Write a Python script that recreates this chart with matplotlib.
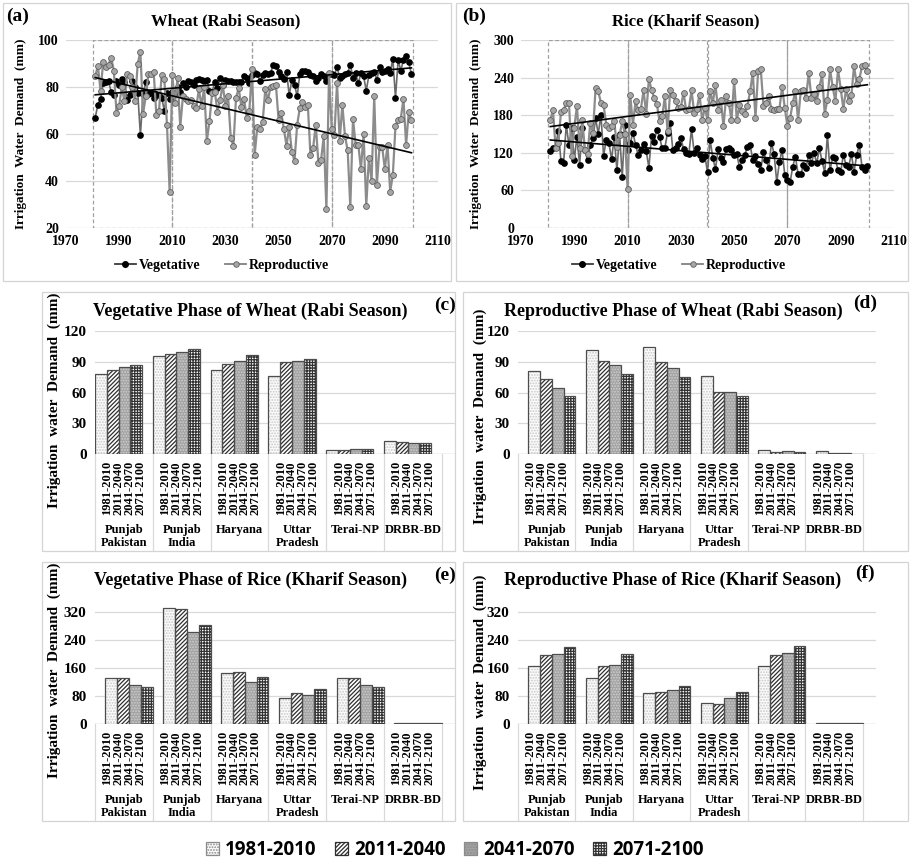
import numpy as np
import matplotlib
matplotlib.use('Agg')
import matplotlib.pyplot as plt
from matplotlib.patches import Rectangle, Patch
from matplotlib.lines import Line2D
import matplotlib.transforms as mtransforms

W, H = 910, 861
plt.rcParams['font.family'] = ['Liberation Serif', 'DejaVu Serif']
plt.rcParams['font.weight'] = 'bold'
plt.rcParams['hatch.linewidth'] = 0.9

# ---------------- data ----------------
years = list(range(1981, 2101))

wheat_veg = [67, 72.5, 75, 81.5, 82, 82.5, 78, 76.5, 82.5, 81,
             83.5, 82, 74.5, 76.5, 82.5, 80, 77.5, 59.5, 77, 82,
             77, 77.5, 75.5, 77, 76.5, 75.5, 70, 77.5, 75, 78,
             77.5, 80, 78, 81.5, 80, 82.5, 82, 81, 83, 83.5,
             83, 82.5, 83, 78.5, 78, 82, 79.5, 84, 81, 83,
             82.5, 82.5, 82, 82, 82, 82, 84.5, 84, 81.5, 85,
             86, 85.5, 82.5, 85, 86, 85.5, 86, 89.5, 89, 86.5,
             84.5, 83.5, 86.5, 76.5, 83, 81, 76, 85.5, 87, 87,
             86.5, 85, 84.5, 82.5, 84, 85.5, 84.5, 82.5, 85.5, 85.5,
             85, 88.5, 84, 84.5, 85.5, 86, 89.5, 84, 86, 81.5,
             86, 84.5, 78.5, 85, 86, 86.5, 83, 88.5, 86.5, 87,
             87.5, 86, 92, 75.5, 91.5, 87, 91.5, 93, 90.5, 85.5]

wheat_rep = [84.5, 89, 78.5, 90.5, 88.5, 89.5, 92.5, 87, 69, 72,
             80, 74, 85.5, 84.5, 80, 74, 90, 95, 68.5, 76,
             85.5, 85.5, 86.5, 68, 70, 85, 83.5, 64, 35.5, 85,
             73, 84, 63, 76, 75, 74, 74.5, 72, 71, 79,
             72, 80, 57, 65.5, 77.5, 78, 69.5, 74.5, 81, 72,
             76, 58.5, 55, 75.5, 79.5, 71.5, 75, 67, 70, 87.5,
             51, 63, 62, 65, 79, 74.5, 80, 80.5, 81, 66,
             69, 62, 55, 63, 52.5, 48.5, 64, 71, 73.5, 71.5,
             72.5, 51, 54, 64, 47.5, 49, 59, 28, 86, 62,
             59.5, 81.5, 57, 72.5, 59, 53, 29, 66.5, 55.5, 55.5,
             45, 60, 29.5, 50, 40, 76, 38.5, 54.5, 54.5, 45,
             55.5, 35.5, 42.5, 63.5, 66, 66.5, 75, 55.5, 69.5, 66]

rice_veg = [123, 128, 130, 155, 107, 104, 165, 132, 160, 109,
            146, 101, 160, 125, 108, 132, 143, 175, 150, 181,
            115, 141, 135, 110, 145, 92, 150, 82, 165, 125,
            135, 152, 133, 116, 125, 134, 123, 96, 147, 138,
            157, 145, 127, 128, 152, 167, 124, 127, 134, 144,
            126, 120, 118, 158, 120, 128, 117, 110, 115, 89,
            140, 112, 94, 126, 112, 105, 126, 128, 124, 117,
            118, 97, 108, 117, 130, 133, 108, 115, 102, 93,
            121, 108, 96, 136, 118, 73, 106, 124, 85, 76,
            73, 98, 114, 86, 86, 100, 96, 117, 103, 120,
            103, 127, 107, 88, 148, 92, 113, 111, 92, 89,
            117, 100, 98, 118, 90, 116, 133, 97, 92, 99]

rice_rep = [173, 188, 127, 135, 185, 188, 200, 200, 115, 160,
            195, 127, 172, 125, 118, 168, 152, 224, 218, 200,
            196, 165, 160, 162, 170, 130, 148, 170, 150, 62,
            212, 165, 202, 188, 190, 220, 182, 238, 220, 208,
            198, 170, 178, 210, 155, 220, 212, 202, 192, 193,
            216, 188, 190, 220, 184, 190, 213, 172, 192, 172,
            218, 200, 228, 188, 205, 162, 210, 200, 172, 235,
            172, 196, 186, 182, 195, 218, 248, 175, 250, 253,
            195, 200, 210, 190, 188, 190, 190, 225, 192, 162,
            175, 200, 218, 172, 218, 220, 208, 248, 208, 214,
            202, 225, 245, 182, 205, 253, 225, 202, 253, 222,
            190, 222, 202, 212, 258, 230, 238, 258, 260, 250]

regions = ['Punjab\nPakistan', 'Punjab\nIndia', 'Haryana', 'Uttar\nPradesh', 'Terai-NP', 'DRBR-BD']
periods = ['1981-2010', '2011-2040', '2041-2070', '2071-2100']

# rows = periods, columns = regions
wheat_veg_bars = [[77.7, 95.6, 82.0, 76.4, 3.9, 12.7],
                  [82.3, 97.6, 87.8, 89.8, 4.2, 11.4],
                  [85.2, 99.5, 90.7, 90.7, 4.6, 10.4],
                  [86.8, 102.8, 96.3, 93.0, 5.2, 10.4]]
wheat_rep_bars = [[81.3, 101.5, 104.0, 76.4, 3.6, 2.6],
                  [73.5, 90.7, 89.4, 60.8, 2.3, 1.3],
                  [64.0, 86.8, 84.2, 60.8, 2.6, 0.7],
                  [56.6, 77.7, 74.8, 56.6, 1.6, 0.3]]
rice_veg_bars = [[130.9, 331.4, 145.2, 73.5, 131.8, 1.9],
                 [130.9, 329.5, 148.0, 89.8, 131.8, 1.9],
                 [111.7, 263.6, 120.3, 84.0, 112.7, 1.9],
                 [105.0, 282.7, 133.7, 99.3, 106.0, 1.9]]
rice_rep_bars = [[165.0, 133.0, 88.3, 60.8, 166.0, 2.0],
                 [196.6, 166.0, 93.0, 58.0, 198.5, 2.0],
                 [201.3, 170.0, 96.9, 74.0, 202.0, 2.0],
                 [220.3, 199.4, 110.0, 91.0, 222.0, 2.0]]

# ---------------- styles ----------------
GRID = '#d9d9d9'
FRAME = '#d4d4d4'
bar_fc = ['#fbfbfb', 'white', '#a3a3a3', 'white']
bar_hatch = ['......', '////////', '......', '++++++']
bar_hc = ['#c9c9c9', '#2e2e2e', '#cdcdcd', '#333333']
BAR_EDGE = '#4d4d4d'

fig = plt.figure(figsize=(W / 100, H / 100), dpi=100)


def ax_px(x0, y0, x1, y1):
    return fig.add_axes([x0 / W, 1 - y1 / H, (x1 - x0) / W, (y1 - y0) / H])


def frame(x0, y0, x1, y1):
    fig.add_artist(Rectangle((x0 / W, 1 - y1 / H), (x1 - x0) / W, (y1 - y0) / H,
                             transform=fig.transFigure, fill=False,
                             edgecolor=FRAME, lw=0.9))


def ftext(x, y, s, **kw):
    fig.text(x / W, 1 - y / H, s, fontweight='bold', **kw)


def bold_ticks(ax):
    for t in ax.get_xticklabels() + ax.get_yticklabels():
        t.set_fontweight('bold')


# ---------------- time-series panels ----------------
def ts_panel(x0, x1, ylim, yticks, veg, rep, title, title_x, label, label_x,
             ylab_x, leg_x):
    ax = ax_px(x0, 40, x1, 228)
    ax.set_xlim(1970, 2110)
    ax.set_ylim(*ylim)
    ax.set_xticks(range(1970, 2111, 20))
    ax.set_yticks(yticks)
    for s in ax.spines.values():
        s.set_visible(False)
    ax.tick_params(length=0, labelsize=10, pad=5)
    bold_ticks(ax)
    ax.grid(axis='y', color=GRID, lw=0.9)
    ax.set_axisbelow(True)
    edges = [1980, 2010, 2040, 2070, 2100.7]
    for a, b in zip(edges[:-1], edges[1:]):
        ax.add_patch(Rectangle((a, ylim[0]), b - a, ylim[1] - ylim[0], fill=False,
                               ls=(0, (3, 2)), ec='#a0a0a0', lw=0.9, zorder=1))
    yr = np.array(years, dtype=float)
    ax.plot(yr, veg, color='#6a6a6a', lw=1.2, marker='o', ms=3.8,
            mfc='black', mec='black', zorder=3)
    ax.plot(yr, rep, color='#8c8c8c', lw=1.6, marker='o', ms=4.2,
            mfc='#a6a6a6', mec='#5f5f5f', mew=0.6, zorder=4)
    for series in (veg, rep):
        k, b = np.polyfit(yr, series, 1)
        ax.plot([yr[0], yr[-1]], [k * yr[0] + b, k * yr[-1] + b], color='black',
                lw=1.2, zorder=5)
    ftext(title_x, 21, title, ha='center', va='center', fontsize=12)
    ftext(label_x, 16, label, ha='left', va='center', fontsize=14)
    ftext(ylab_x, 134, 'Irrigation  Water  Demand  (mm)', rotation=90,
          ha='center', va='center', fontsize=9.5)
    handles = [Line2D([], [], color='#3a3a3a', lw=1.3, marker='o', ms=4,
                      mfc='black', mec='black'),
               Line2D([], [], color='#808080', lw=1.3, marker='o', ms=4,
                      mfc='#a6a6a6', mec='#5f5f5f', mew=0.6)]
    fig.legend(handles, ['Vegetative', 'Reproductive'], loc='center',
               bbox_to_anchor=(leg_x / W, 1 - 265 / H), ncol=2, frameon=False,
               prop={'weight': 'bold', 'size': 10}, handlelength=1.5,
               handletextpad=0.2, columnspacing=1.8)
    return ax


frame(3, 3, 451, 281)
frame(456, 3, 908, 281)
ts_panel(66, 438, (20, 100), range(20, 101, 20), wheat_veg, wheat_rep,
         'Wheat (Rabi Season)', 226, '(a)', 6, 21, 222)
ts_panel(521, 894, (0, 300), range(0, 301, 60), rice_veg, rice_rep,
         'Rice (Kharif Season)', 686, '(b)', 462, 476, 679)


# ---------------- bar panels ----------------
def bar_panel(ax_box, ylim, yticks, data, align, title, title_xy, label, label_xy,
              ylab_xy, bottom_px):
    x0, y_top, x1, y_bot = ax_box
    ax = ax_px(x0, y_top, x1, y_bot)
    ncat = len(regions)
    ax.set_xlim(0, 6.23)
    ax.set_ylim(*ylim)
    ax.set_yticks(yticks)
    ax.set_xticks([])
    for s in ax.spines.values():
        s.set_visible(False)
    ax.tick_params(length=0, labelsize=11, pad=6)
    bold_ticks(ax)
    ax.grid(axis='y', color=GRID, lw=0.9)
    ax.set_axisbelow(True)
    ax.axhline(0, color=GRID, lw=1.0, zorder=1)
    w = 0.2046
    off = 0.0 if align == 'left' else 1 - 4 * w
    for i, vals in enumerate(data):
        xs = np.arange(ncat) + off + i * w + w / 2
        ax.bar(xs, vals, w, color=bar_fc[i], lw=0, zorder=2)
        ax.bar(xs, vals, w, fill=False, hatch=bar_hatch[i], ec=bar_hc[i], lw=0, zorder=3)
        ax.bar(xs, vals, w, fill=False, ec=BAR_EDGE, lw=0.9, zorder=4)
    blend = mtransforms.blended_transform_factory(ax.transData, ax.transAxes)
    ax_h = y_bot - y_top
    depth = (bottom_px - y_bot) / ax_h
    for k in range(ncat + 1):
        ax.plot([k, k], [0, -depth], transform=blend, color=GRID, lw=0.9,
                clip_on=False)
    lab_tr = mtransforms.offset_copy(blend, fig=fig, y=-7, units='dots')
    name_tr = mtransforms.offset_copy(blend, fig=fig, y=-70, units='dots')
    for k in range(ncat):
        ax.text(k + 0.5, 0, '\n'.join(periods), transform=lab_tr, rotation=90,
                ha='center', va='top', fontsize=9, fontweight='bold',
                linespacing=0.88)
        ax.text(k + 0.5, 0, regions[k], transform=name_tr, ha='center', va='top',
                fontsize=9, fontweight='bold', linespacing=1.1)
    ftext(title_xy[0], title_xy[1], title, ha='center', va='center', fontsize=13)
    ftext(label_xy[0], label_xy[1], label, ha='left', va='center', fontsize=14)
    ftext(ylab_xy[0], ylab_xy[1], 'Irrigation  water  Demand  (mm)', rotation=90,
          ha='center', va='center', fontsize=11)
    return ax


frame(42, 292, 455, 551)
frame(463, 292, 908, 551)
frame(42, 562, 455, 821)
frame(463, 562, 908, 821)

bar_panel((95, 331, 455, 454), (0, 120), range(0, 121, 30), wheat_veg_bars, 'left',
          'Vegetative Phase of Wheat (Rabi Season)', (250, 311), '(c)', (434, 305),
          (54, 400), 551)
bar_panel((518, 331, 876, 454), (0, 120), range(0, 121, 30), wheat_rep_bars, 'right',
          'Reproductive Phase of Wheat (Rabi Season)', (673, 311), '(d)', (853, 303),
          (480, 416), 551)
bar_panel((95, 601, 455, 724), (0, 352), range(0, 321, 80), rice_veg_bars, 'right',
          'Vegetative Phase of Rice (Kharif Season)', (250, 580), '(e)', (434, 575),
          (54, 670), 821)
bar_panel((518, 601, 876, 724), (0, 352), range(0, 321, 80), rice_rep_bars, 'right',
          'Reproductive Phase of Rice (Kharif Season)', (673, 580), '(f)', (855, 573),
          (480, 682), 821)

# ---------------- bottom legend ----------------
leg_handles = [Patch(facecolor=bar_fc[i], edgecolor=bar_hc[i] if i in (1, 3) else '#8a8a8a',
                     hatch=bar_hatch[i], lw=0.9) for i in range(4)]
fig.legend(leg_handles, periods, loc='center', bbox_to_anchor=(455 / W, 1 - 850 / H),
           ncol=4, frameon=False,
           prop={'family': ['Open Sans', 'DejaVu Sans'], 'weight': 'bold', 'size': 13.5},
           handlelength=0.65, handleheight=0.65, handletextpad=0.35, columnspacing=1.0)

fig.savefig('out.png', dpi=100)
